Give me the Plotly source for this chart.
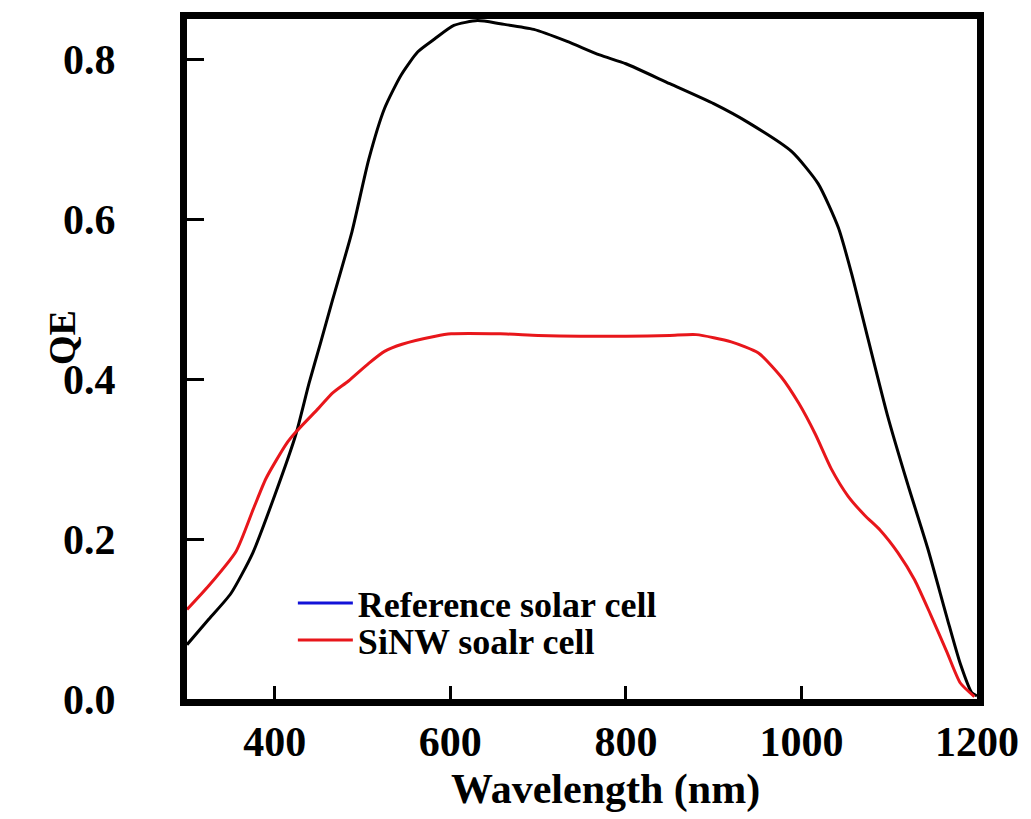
import plotly.graph_objects as go

# Reference solar cell (black curve)
wl_ref = [300, 325, 350, 375, 400, 424, 439, 452, 466, 488, 507, 525, 544, 563, 582, 604,
          631, 657, 695, 733, 770, 800, 850, 900, 940, 989, 1019, 1042, 1057, 1076,
          1098, 1121, 1144, 1166, 1181, 1194, 1200]
qe_ref = [0.068, 0.100, 0.132, 0.183, 0.255, 0.331, 0.395, 0.445, 0.500, 0.585, 0.675,
          0.739, 0.781, 0.810, 0.826, 0.843, 0.849, 0.845, 0.838, 0.823, 0.806, 0.795,
          0.770, 0.745, 0.721, 0.685, 0.645, 0.590, 0.533, 0.450, 0.355, 0.269, 0.188,
          0.101, 0.044, 0.008, 0.004]

# SiNW solar cell (red curve)
wl_sinw = [300, 325, 356, 376, 390, 413, 424, 450, 466, 484, 507, 525, 545, 583, 601,
           657, 700, 748, 800, 850, 880, 920, 951, 977, 997, 1016, 1034, 1053, 1072,
           1090, 1110, 1129, 1147, 1166, 1181, 1197]
qe_sinw = [0.112, 0.142, 0.185, 0.239, 0.276, 0.319, 0.334, 0.364, 0.383, 0.398, 0.420,
           0.435, 0.444, 0.454, 0.457, 0.457, 0.455, 0.454, 0.454, 0.455, 0.456, 0.447,
           0.433, 0.403, 0.370, 0.331, 0.288, 0.254, 0.230, 0.211, 0.183, 0.149, 0.106,
           0.058, 0.020, 0.003]

x_ticks = [400, 600, 800, 1000, 1200]
y_ticks = [0.0, 0.2, 0.4, 0.6, 0.8]
y_ticktext = ["0.0", "0.2", "0.4", "0.6", "0.8"]

FONT = "Liberation Serif"

fig = go.Figure()
fig.add_trace(go.Scatter(x=wl_ref, y=qe_ref, mode="lines", showlegend=False,
                         line=dict(color="black", width=3, shape="spline", smoothing=0.6),
                         name="Reference solar cell"))
fig.add_trace(go.Scatter(x=wl_sinw, y=qe_sinw, mode="lines", name="SiNW soalr cell",
                         legend="legend2",
                         line=dict(color="#e8161b", width=3, shape="spline", smoothing=0.6)))
fig.add_trace(go.Scatter(x=[None], y=[None], mode="lines", name="Reference solar cell",
                         legend="legend", line=dict(color="#1212d8", width=3)))

axis_common = dict(showline=True, linewidth=7, linecolor="black", mirror=True,
                   showgrid=False, zeroline=False, ticks="inside", tickcolor="black",
                   tickwidth=3,
                   tickfont=dict(family=FONT, size=42, color="black", weight="bold"))

fig.update_xaxes(range=[300, 1200], tickvals=x_ticks, ticklen=13,
                 ticklabelstandoff=0, **axis_common)
fig.update_yaxes(range=[0, 0.851], tickvals=y_ticks, ticktext=y_ticktext, ticklen=17,
                 ticklabelstandoff=56, **axis_common)

legend_font = dict(family=FONT, size=36, color="black", weight="bold")
fig.update_layout(
    width=1031, height=819,
    margin=dict(l=187, r=51, t=17, b=120),
    paper_bgcolor="white", plot_bgcolor="white",
    legend=dict(x=0.134, y=0.141, xanchor="left", yanchor="middle", font=legend_font,
                bgcolor="rgba(0,0,0,0)", itemwidth=55),
    legend2=dict(x=0.134, y=0.0866, xanchor="left", yanchor="middle", font=legend_font,
                 bgcolor="rgba(0,0,0,0)", itemwidth=55),
    annotations=[
        dict(text="Wavelength (nm)", x=0.53, y=-0.1335, xref="paper", yref="paper",
             xanchor="center", yanchor="middle", showarrow=False,
             font=dict(family=FONT, size=42, color="black", weight="bold")),
        dict(text="QE", x=-0.158, y=0.531, xref="paper", yref="paper", textangle=-90,
             xanchor="center", yanchor="middle", showarrow=False,
             font=dict(family=FONT, size=38, color="black", weight="bold")),
    ],
)

fig.write_html("out.html")
